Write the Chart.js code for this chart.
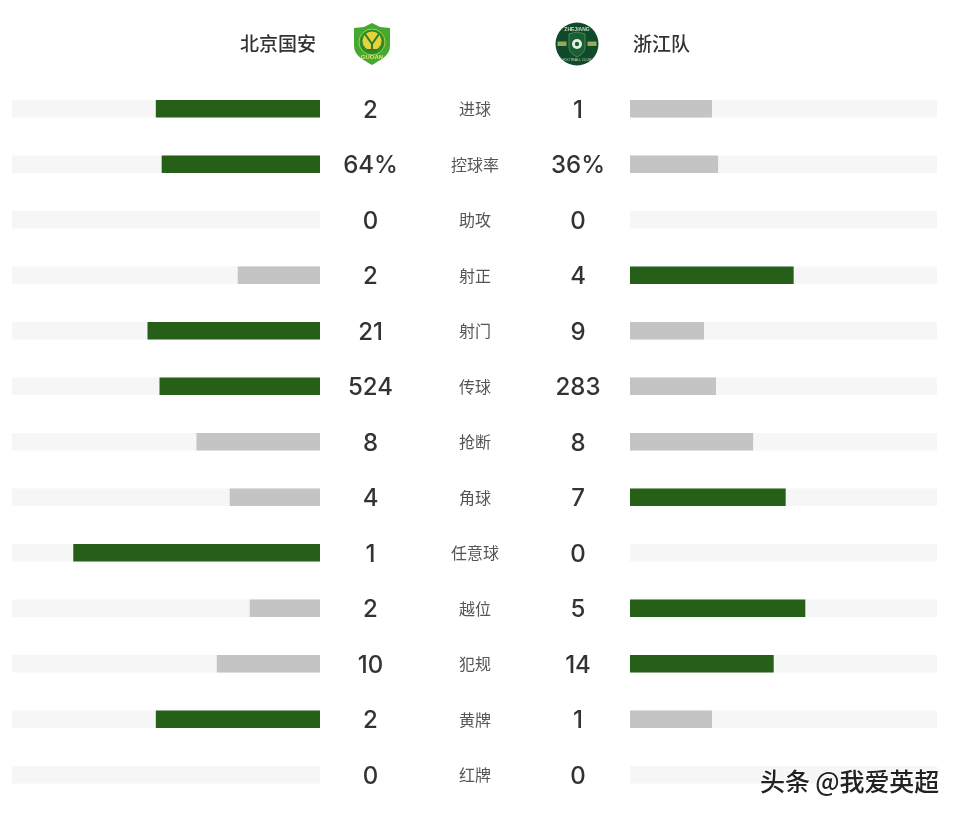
<!DOCTYPE html>
<html lang="zh">
<head>
<meta charset="UTF-8">
<title>北京国安 vs 浙江队</title>
<script src="https://cdn.jsdelivr.net/npm/chart.js"></script>
<style>
    body { margin: 0; background: #fff; width: 960px; height: 814px; overflow: hidden; position: relative; }
    canvas { position: absolute; left: 0; top: 0; }
    svg { position: absolute; }
    #mark {
        position: absolute; left: 760px; top: 762px; color: #222;
        font: 500 25px "Noto Sans CJK SC", sans-serif; white-space: nowrap; letter-spacing: -0.1px;
        text-shadow: 1px 1px 0 #fff, -1px 0 0 #fff, 0 -1px 0 #fff;
    }
</style>
</head>
<body>
<canvas id="leftChart" width="960" height="814"></canvas>
<canvas id="rightChart" width="960" height="814"></canvas>

<!-- 队徽 -->
<svg style="left:352px;top:22px" width="40" height="44" viewBox="0 0 40 44">
    <path d="M20 1 L28 5 L38 6 L38 24 C38 34 28 38 20 43 C12 38 2 34 2 24 L2 6 L12 5 Z" fill="#45a82f"/>
    <circle cx="20" cy="20" r="13" fill="#2f8a2a" stroke="#a5d24a" stroke-width="1"/>
    <circle cx="20" cy="19" r="9.5" fill="#e6d23a"/>
    <path d="M13 12 L20 22 L27 12 M20 22 L20 29 M15 28 L25 28" stroke="#2a7d2a" stroke-width="2" fill="none"/>
    <text x="20" y="37" text-anchor="middle" font-size="6" font-weight="700" fill="#e6e27a" font-family="Liberation Sans">GUOAN</text>
</svg>
<svg style="left:554px;top:22px" width="46" height="44" viewBox="0 0 46 44">
    <circle cx="23" cy="22" r="21.5" fill="#0f4a2a"/>
    <path d="M15 12 L23 10 L31 12 L31 25 C31 30 27 33 23 35 C19 33 15 30 15 25 Z" fill="#175f35" stroke="#6b9a58" stroke-width="0.7"/>
    <rect x="3.5" y="19.5" width="9" height="4.5" fill="#9aa85a"/>
    <rect x="33.5" y="19.5" width="9" height="4.5" fill="#9aa85a"/>
    <circle cx="23" cy="22" r="5" fill="#e9efe6"/>
    <circle cx="23" cy="22" r="2.2" fill="#175f35"/>
    <text x="23" y="8.5" text-anchor="middle" font-size="5" font-weight="700" fill="#cfdcbf" font-family="Liberation Sans">ZHEJIANG</text>
    <text x="23" y="39" text-anchor="middle" font-size="3.6" fill="#cfdcbf" font-family="Liberation Sans">FOOTBALL CLUB</text>
</svg>

<div id="mark">头条 @我爱英超</div>

<script>
    const categorias = ['进球', '控球率', '助攻', '射正', '射门', '传球', '抢断', '角球', '任意球', '越位', '犯规', '黄牌', '红牌'];
    const equipoLocal = '北京国安';
    const equipoVisita = '浙江队';

    // Números mostrados junto a las barras
    const textoLocal = ['2', '64%', '0', '2', '21', '524', '8', '4', '1', '2', '10', '2', '0'];
    const textoVisita = ['1', '36%', '0', '4', '9', '283', '8', '7', '0', '5', '14', '1', '0'];

    // Largo de cada barra, en % de la pista
    const barrasLocal = [53.2, 51.3, 0, 26.6, 55.9, 52, 40, 29.2, 80, 22.7, 33.4, 53.2, 0];
    const barrasVisita = [26.6, 28.6, 0, 53.2, 24, 27.9, 40, 50.6, 0, 57, 46.7, 26.6, 0];

    const pista = categorias.map(() => 100);

    const VERDE = '#255f18';
    const GRIS = '#c4c4c4';
    const FONDO = '#f6f6f6';

    // Verde para el lado que gana, gris para el otro, nada si la barra vale 0
    function coloresBarra(propias, otras) {
        return propias.map((v, i) => {
            if (v === 0) return 'transparent';
            return v > otras[i] ? VERDE : GRIS;
        });
    }

    function crearGrafico(id, barras, otras, padding, invertido, plugin) {
        return new Chart(document.getElementById(id), {
            type: 'bar',
            data: {
                labels: categorias,
                datasets: [
                    { data: barras, backgroundColor: coloresBarra(barras, otras), barThickness: 17, order: 1 },
                    { data: pista, backgroundColor: FONDO, barThickness: 17, order: 2 }
                ]
            },
            options: {
                indexAxis: 'y',
                responsive: false,
                animation: false,
                layout: { padding: padding },
                plugins: { legend: { display: false }, tooltip: { enabled: false } },
                scales: {
                    x: { display: false, min: 0, max: 100, reverse: invertido },
                    y: { display: false, stacked: true }
                }
            },
            plugins: [plugin]
        });
    }

    function escribir(ctx, texto, x, y, fuente, color) {
        ctx.font = fuente;
        ctx.fillStyle = color;
        ctx.fillText(texto, x, y);
    }

    const FUENTE_NUM = '500 24px "Inter", "Noto Sans", sans-serif';
    const FUENTE_CAT = '400 16px "Noto Sans CJK SC", sans-serif';
    const FUENTE_EQUIPO = '500 19px "Noto Sans CJK SC", sans-serif';

    const textoIzq = {
        id: 'textoIzq',
        afterDraw(chart) {
            const ctx = chart.ctx;
            ctx.save();
            ctx.textBaseline = 'middle';
            ctx.textAlign = 'center';
            categorias.forEach((c, i) => {
                const y = chart.scales.y.getPixelForValue(i);
                escribir(ctx, textoLocal[i], 370.5, y + 2, FUENTE_NUM, '#333');
                escribir(ctx, c, 475, y + 0.5, FUENTE_CAT, '#555');
            });
            ctx.textAlign = 'right';
            escribir(ctx, equipoLocal, 316, 43.5, FUENTE_EQUIPO, '#333');
            ctx.restore();
        }
    };

    const textoDer = {
        id: 'textoDer',
        afterDraw(chart) {
            const ctx = chart.ctx;
            ctx.save();
            ctx.textBaseline = 'middle';
            ctx.textAlign = 'center';
            categorias.forEach((c, i) => {
                const y = chart.scales.y.getPixelForValue(i);
                escribir(ctx, textoVisita[i], 578, y + 2, FUENTE_NUM, '#333');
            });
            ctx.textAlign = 'left';
            escribir(ctx, equipoVisita, 633, 43.5, FUENTE_EQUIPO, '#333');
            ctx.restore();
        }
    };

    crearGrafico('leftChart', barrasLocal, barrasVisita, { left: 12, right: 640, top: 81, bottom: 11.5 }, true, textoIzq);
    crearGrafico('rightChart', barrasVisita, barrasLocal, { left: 630, right: 23, top: 81, bottom: 11.5 }, false, textoDer);
</script>
</body>
</html>
